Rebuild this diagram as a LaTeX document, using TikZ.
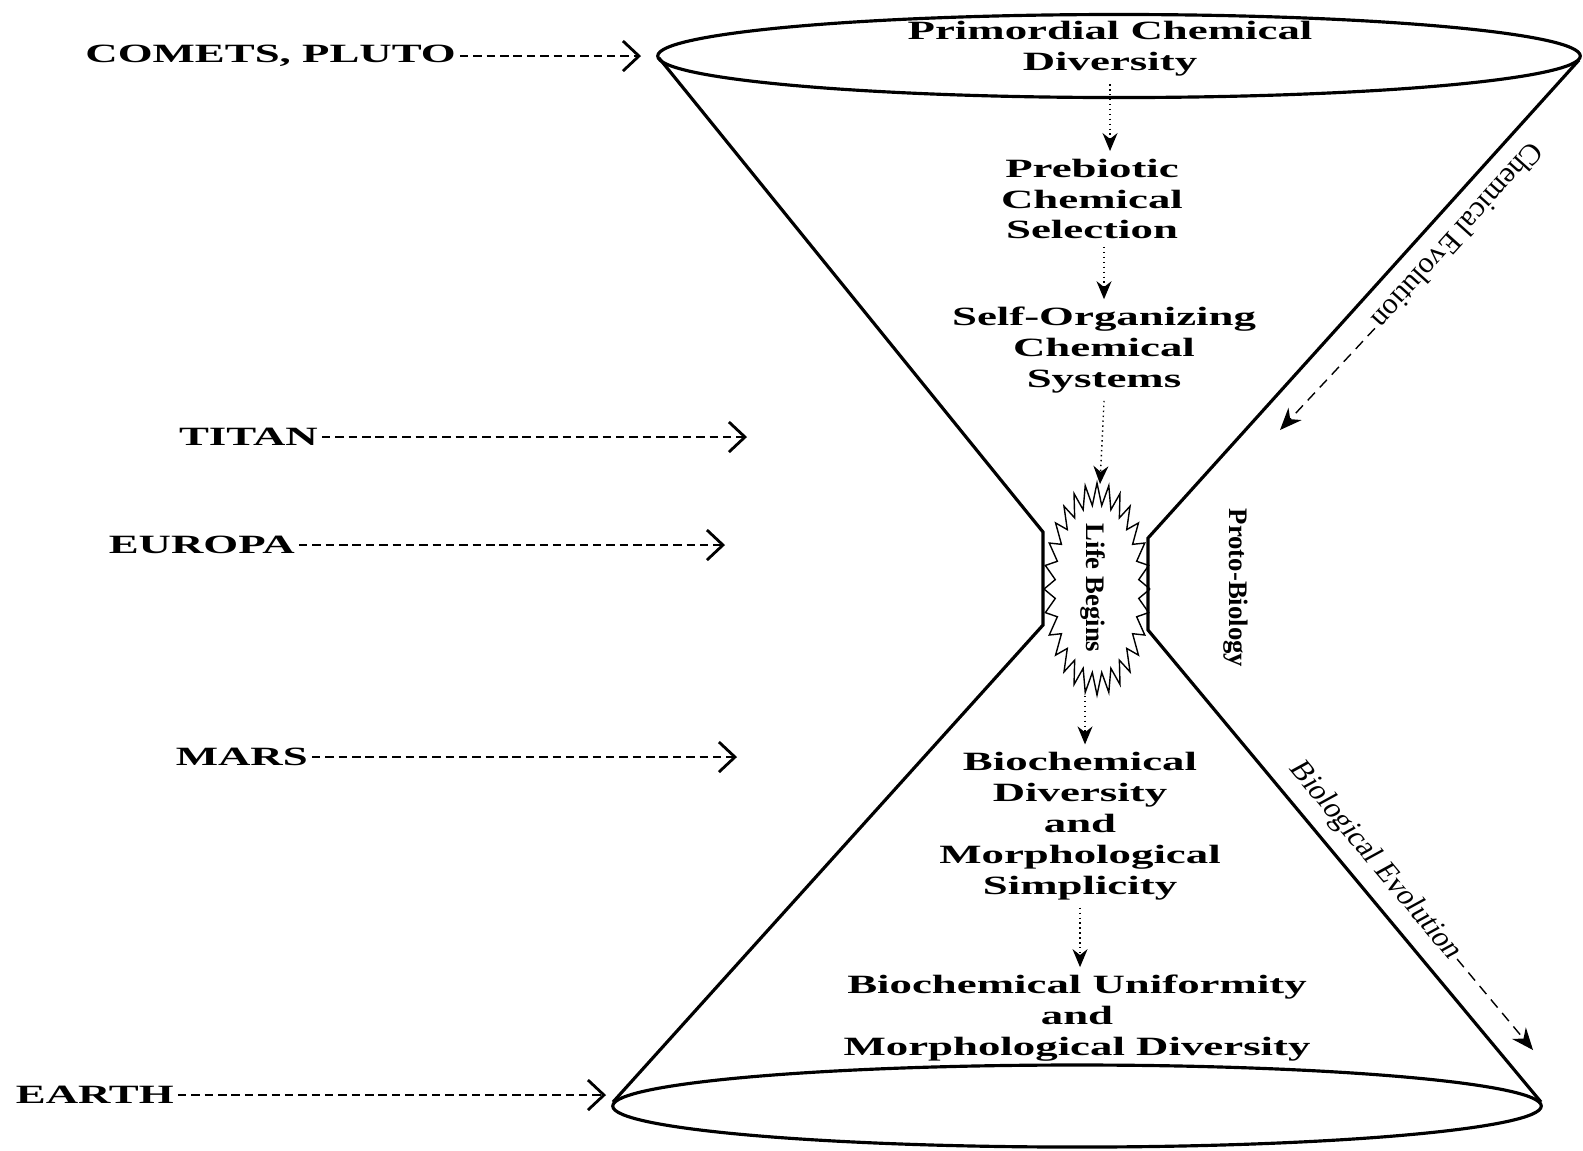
\documentclass[tikz,border=0pt]{standalone}
\usepackage{fontspec}
\setmainfont{Liberation Serif}
\newfontfamily\widefont[FakeStretch=1.7]{Liberation Serif}
\newfontfamily\slantfont[FakeSlant=0.2]{Liberation Serif}
\usetikzlibrary{arrows.meta,positioning,calc}
\tikzset{
  cone/.style={line width=0.9pt},
  stage/.style={font=\widefont\bfseries\fontsize{7.5}{8.8}\selectfont, align=center, inner sep=2pt},
  body/.style={font=\widefont\bfseries\fontsize{7.5}{8.8}\selectfont, inner sep=1pt},
  side/.style={font=\fontsize{8.5}{10}\selectfont, inner sep=1pt},
  upright/.style={font=\bfseries\fontsize{7.6}{9}\selectfont, inner sep=1pt, rotate=-90},
  flow/.style={densely dotted, thin, -{Stealth[length=1.8mm,width=1.5mm]}},
  pointer/.style={dash pattern=on 2.4pt off 1.4pt, line width=0.8pt, -{Straight Barb[length=1.6mm,width=3mm]}},
  trend/.style={densely dashed, thin, -{Stealth[length=2.2mm,width=1.8mm]}}
}
\begin{document}
\begin{tikzpicture}[x=0.01cm, y=-0.01cm]
  \useasboundingbox (0,0) rectangle (1583,1150);
  % hourglass
  \draw[cone] (1119,56) ellipse [x radius=4.61cm, y radius=0.415cm];
  \draw[cone] (1077,1106) ellipse [x radius=4.64cm, y radius=0.41cm];
  \draw[cone] (659,58) -- (1043,532) -- (1043,625) -- (613,1102);
  \draw[cone] (1579,60) -- (1148,538) -- (1148,630) -- (1541,1102);
  % burst round the start of life
  \draw[thin] plot[domain=0:56, samples=57, variable=\i]
    ({1097+(53-11*mod(round(\i),2))*cos(\i*45/7)}, {589+(106-22*mod(round(\i),2))*sin(\i*45/7)});
  \coordinate (burst-top) at (1100,484);
  \coordinate (burst-bot) at (1085,696);

  % stages down the middle
  \node[stage] (prim) at (1110,49) {Primordial Chemical\\Diversity};
  \node[stage] (preb) at (1092,199) {Prebiotic\\Chemical\\Selection};
  \node[stage] (self) at (1104,350) {Self-Organizing\\Chemical\\Systems};
  \node[upright] (life) at (1093,588) {Life Begins};
  \node[stage] (bdiv) at (1080,826) {Biochemical\\Diversity\\and\\Morphological\\Simplicity};
  \node[stage] (bunif) at (1077,1018) {Biochemical Uniformity\\and\\Morphological Diversity};
  \draw[flow] (prim.south) -- (prim.south |- preb.north);
  \draw[flow] (self.north |- preb.south) -- (self.north);
  \draw[flow] (self.south) -- (burst-top);
  \draw[flow] (burst-bot) -- (burst-bot |- bdiv.north);
  \draw[flow] (bdiv.south) -- (bdiv.south |- bunif.north);

  % bodies on the left
  \node[body, anchor=east] (comets) at (460,56) {COMETS, PLUTO};
  \node[body, anchor=east] (titan) at (322,437) {TITAN};
  \node[body, anchor=east] (europa) at (299,545) {EUROPA};
  \node[body, anchor=east] (mars) at (312,757) {MARS};
  \node[body, anchor=east] (earth) at (178,1095) {EARTH};
  \coordinate (comets-tip) at (641,56);
  \coordinate (titan-tip) at (747,437);
  \coordinate (europa-tip) at (725,545);
  \coordinate (mars-tip) at (737,757);
  \coordinate (earth-tip) at (606,1095);
  \foreach \b in {comets,titan,europa,mars,earth}
    \draw[pointer] (\b) -- (\b-tip);

  % phases on the right
  \node[upright] (proto) at (1236,588) {Proto-Biology};
  \node[side, rotate=-132] (chem) at (1458,236) {Chemical Evolution};
  \node[side, font=\slantfont\fontsize{8.5}{10}\selectfont, rotate=-50] (bio) at (1374,860) {Biological Evolution};
  \coordinate (chem-tip) at (1280,430);
  \coordinate (bio-tip) at (1533,1050);
  \draw[trend] (chem.east) -- (chem-tip);
  \draw[trend] (bio.east) -- (bio-tip);
\end{tikzpicture}
\end{document}
